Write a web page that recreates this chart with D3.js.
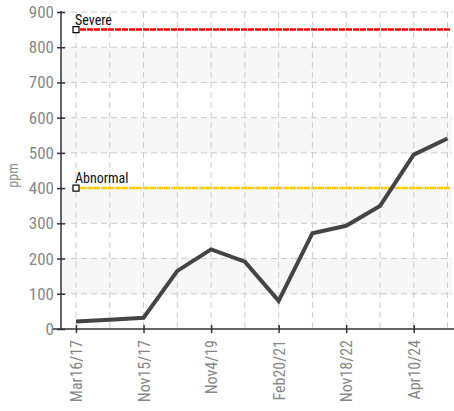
<!DOCTYPE html>
<html>
<head>
<meta charset="utf-8">
<script src="https://cdn.jsdelivr.net/npm/d3@7"></script>
<style>
body { margin: 0; background: #fff; }
svg text { font-family: "Liberation Sans Narrow", "Roboto Condensed", "DejaVu Sans Condensed", "Arial Narrow", sans-serif; }
</style>
</head>
<body>
<div id="chart"></div>
<script>
// readings, one per visit; only every other visit gets a date label
var values = [21, 26, 32, 165, 226, 191, 80, 272, 293, 349, 495, 541];
var tickIndex = [0, 2, 4, 6, 8, 10];
var tickLabels = ["Mar16/17", "Nov15/17", "Nov4/19", "Feb20/21", "Nov18/22", "Apr10/24"];
var yTicks = [0, 100, 200, 300, 400, 500, 600, 700, 800, 900];
var thresholds = [{name: "Severe", value: 850, color: "#ff0000"},
                  {name: "Abnormal", value: 400, color: "#ffcc00"}];

var svg = d3.select("#chart").append("svg").attr("width", 454).attr("height", 411);

var plotL = 61, plotR = 454, plotT = 12, plotB = 329;

var x = d3.scaleLinear().domain([0, values.length - 1]).range([76, 447.5]);
var y = d3.scaleLinear().domain([0, 900]).range([plotB, plotT]);

// alternate bands
var bands = d3.range(100, 900, 200);
svg.selectAll(".band").data(bands).enter().append("rect")
    .attr("x", plotL).attr("width", plotR - 2 - plotL)
    .attr("y", function(d){ return y(d + 100); })
    .attr("height", function(d){ return y(d) - y(d + 100); })
    .attr("fill", "#f7f7f7");

// horizontal grid
svg.selectAll(".hgrid").data(yTicks.slice(1)).enter().append("line")
    .attr("x1", plotL).attr("x2", plotR - 2)
    .attr("y1", function(d){ return y(d); }).attr("y2", function(d){ return y(d); })
    .attr("stroke", "#cccccc").attr("stroke-width", 1).attr("stroke-dasharray", "6,4");

// vertical grid, one per reading
svg.selectAll(".vgrid").data(values).enter().append("line")
    .attr("x1", function(d, i){ return x(i); }).attr("x2", function(d, i){ return x(i); })
    .attr("y1", plotT).attr("y2", plotB)
    .attr("stroke", "#cccccc").attr("stroke-width", 1).attr("stroke-dasharray", "6,4");

// threshold lines
var th = svg.selectAll(".th").data(thresholds).enter().append("g");
th.append("line")
    .attr("x1", x(0) + 4).attr("x2", plotR - 3)
    .attr("y1", function(d){ return y(d.value); }).attr("y2", function(d){ return y(d.value); })
    .attr("stroke", function(d){ return d.color; })
    .attr("stroke-width", 2.5).attr("stroke-dasharray", "6,1");
th.append("rect")
    .attr("x", x(0) - 3).attr("y", function(d){ return y(d.value) - 3; })
    .attr("width", 6).attr("height", 6)
    .attr("fill", "#fff").attr("stroke", "#000").attr("stroke-width", 1.2);
th.append("text")
    .attr("x", x(0) - 1).attr("y", function(d){ return y(d.value) - 5; })
    .attr("font-size", 14).attr("fill", "#111")
    .text(function(d){ return d.name; });

// data line
var line = d3.line().x(function(d, i){ return x(i); }).y(function(d){ return y(d); });
svg.append("path").datum(values)
    .attr("d", line).attr("fill", "none")
    .attr("stroke", "#444").attr("stroke-width", 4).attr("stroke-linejoin", "miter");

// y axis
var yAxis = svg.append("g").attr("transform", "translate(" + plotL + ",0)")
    .call(d3.axisLeft(y).tickValues(yTicks).tickSize(4).tickPadding(3));
yAxis.select(".domain").attr("stroke", "#333").attr("stroke-width", 1.5).attr("d", "M0," + (plotT - 1) + "V" + plotB);
yAxis.selectAll(".tick line").attr("x1", -4).attr("x2", 4).attr("stroke", "#333").attr("stroke-width", 1.5);
yAxis.selectAll(".tick text").attr("font-size", 17).attr("fill", "#888");

// x axis
var xAxis = svg.append("g").attr("transform", "translate(0," + plotB + ")")
    .call(d3.axisBottom(x).tickValues(tickIndex)
        .tickFormat(function(d){ return tickLabels[tickIndex.indexOf(d)]; })
        .tickSize(4));
xAxis.select(".domain").attr("stroke", "#333").attr("stroke-width", 1.5).attr("d", "M" + (plotL - 8) + ",0H" + plotR);
xAxis.selectAll(".tick line").attr("y1", -4).attr("y2", 4).attr("stroke", "#333").attr("stroke-width", 1.5);
xAxis.selectAll(".tick text")
    .attr("font-size", 16).attr("fill", "#888")
    .attr("text-anchor", "end").attr("dy", null)
    .attr("transform", "translate(0,11) rotate(-90)")
    .attr("x", 0).attr("y", 0).attr("dominant-baseline", "central");

// y label
svg.append("text")
    .attr("transform", "translate(18," + ((plotT + plotB) / 2 + 5) + ") rotate(-90)")
    .attr("text-anchor", "middle").attr("font-size", 14).attr("fill", "#888")
    .text("ppm");
</script>
</body>
</html>
